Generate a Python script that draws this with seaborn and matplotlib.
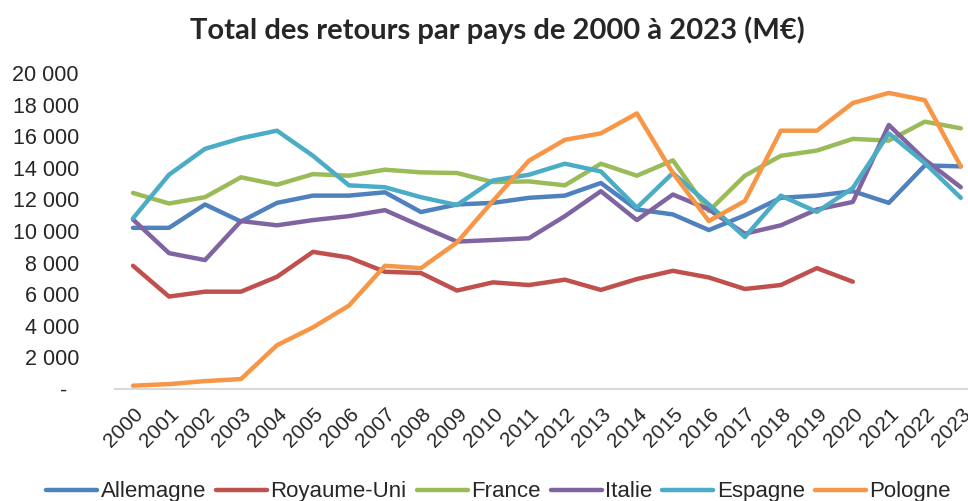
import matplotlib
matplotlib.use("Agg")
import matplotlib.pyplot as plt
import numpy as np
import pandas as pd
import seaborn as sns

years = list(range(2000, 2024))
pays = ["Allemagne", "Royaume-Uni", "France", "Italie", "Espagne", "Pologne"]

allemagne = [10200, 10200, 11680, 10600, 11780, 12240, 12240, 12450, 11200, 11680,
             11780, 12100, 12240, 13040, 11360, 11050, 10060, 10990, 12100, 12240,
             12520, 11780, 14150, 14090]
royaume_uni = [7800, 5850, 6160, 6160, 7100, 8680, 8320, 7420, 7340, 6230,
               6750, 6580, 6920, 6270, 6960, 7480, 7060, 6330, 6580, 7650,
               6790, np.nan, np.nan, np.nan]
france = [12410, 11740, 12140, 13400, 12930, 13600, 13500, 13880, 13710, 13670,
          13100, 13140, 12890, 14260, 13500, 14470, 11260, 13500, 14760, 15090,
          15830, 15720, 16920, 16500]
italie = [10730, 8600, 8160, 10630, 10360, 10690, 10940, 11320, 10310, 9330,
          9430, 9540, 10940, 12520, 10690, 12310, 11360, 9830, 10360, 11360,
          11840, 16710, 14510, 12770]
espagne = [10800, 13560, 15200, 15870, 16350, 14760, 12890, 12770, 12140, 11640,
           13200, 13560, 14260, 13770, 11470, 13670, 11680, 9620, 12240, 11210,
           12720, 16180, 14300, 12100]
pologne = [210, 310, 500, 630, 2770, 3900, 5280, 7800, 7650, 9270,
           11900, 14450, 15770, 16180, 17440, 13670, 10630, 11900, 16350, 16350,
           18100, 18740, 18280, 14090]

couleurs = ["#4F81BD", "#C0504D", "#9BBB59", "#8064A2", "#4BACC6", "#F79646"]

series = [allemagne, royaume_uni, france, italie, espagne, pologne]
df = pd.DataFrame({
    "annee": years * len(pays),
    "pays": [p for p in pays for _ in years],
    "valeur": [v for s in series for v in s],
})

sns.set_style("white")
plt.rcParams["font.family"] = ["Liberation Sans", "DejaVu Sans"]

fig = plt.figure(figsize=(9.68, 5.01), dpi=100)
ax = fig.add_axes([115 / 968, 1 - 389 / 501, (968 - 115) / 968, (389 - 73) / 501])

sns.lineplot(data=df, x="annee", y="valeur", hue="pays", hue_order=pays,
             palette=couleurs, linewidth=3.2, ax=ax, legend=True)

ax.set_xlim(1999.5, 2023.2)
ax.set_ylim(0, 20000)
ax.set_xticks(years)
ax.set_xticklabels([str(y) for y in years], rotation=45, ha="right",
                   rotation_mode="anchor", fontsize=15)
yt = list(range(0, 20001, 2000))
ax.set_yticks(yt)
ax.set_yticklabels(["-  "] + [f"{v:,}".replace(",", " ") for v in yt[1:]], fontsize=15.5)
ax.tick_params(axis="y", length=0, pad=26)
ax.tick_params(axis="x", length=0, pad=11)
ax.set_xlabel("")
ax.set_ylabel("")
for s in ["top", "right", "left"]:
    ax.spines[s].set_visible(False)
ax.spines["bottom"].set_color("#D9D9D9")
ax.spines["bottom"].set_linewidth(1.5)

handles, labels = ax.get_legend_handles_labels()
ax.get_legend().remove()
fig.legend(handles, labels, loc="center", bbox_to_anchor=(0.515, 0.018), ncol=6,
           frameon=False, fontsize=16, handlelength=2.3, handletextpad=0.15,
           columnspacing=0.45, borderpad=0)

fig.text(0.514, 0.94, "Total des retours par pays de 2000 à 2023 (M€)",
         ha="center", va="center", fontsize=21, fontweight="bold",
         family=["Lato", "DejaVu Sans"])

fig.savefig("out.png", dpi=100)
